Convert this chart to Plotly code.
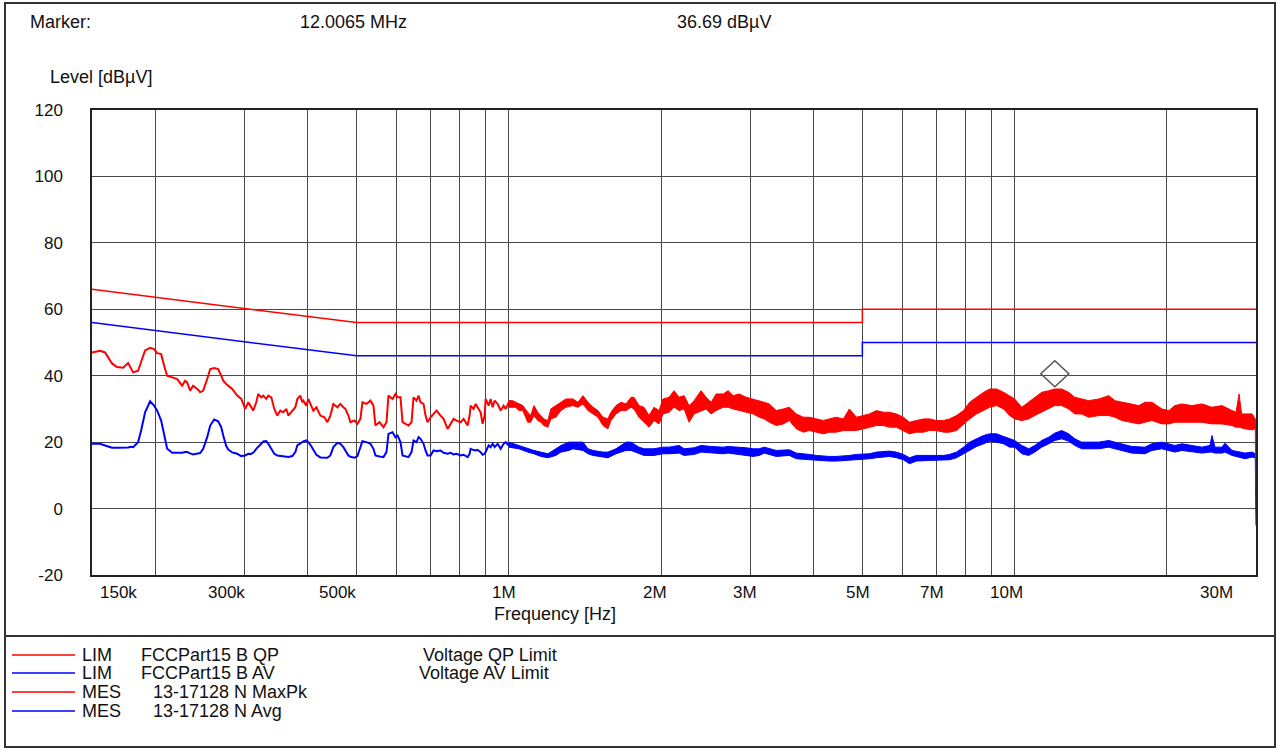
import numpy as np
import plotly.graph_objects as go

# ---------------- data (frequencies in MHz, levels in dBµV) ----------------
freq_low_mhz = [
    0.1500, 0.1556, 0.1592, 0.1621, 0.1643, 0.1681, 0.1728, 0.1768, 0.1792, 0.1809,
    0.1850, 0.1876, 0.1910, 0.1954, 0.1990, 0.2018, 0.2055, 0.2083, 0.2112, 0.2161,
    0.2210, 0.2261, 0.2292, 0.2313, 0.2345, 0.2377, 0.2399, 0.2432, 0.2454, 0.2488,
    0.2534, 0.2569, 0.2616, 0.2664, 0.2701, 0.2726, 0.2763, 0.2789, 0.2840, 0.2905,
    0.2959, 0.3013, 0.3055, 0.3083, 0.3125, 0.3168, 0.3197, 0.3241, 0.3271, 0.3316,
    0.3347, 0.3393, 0.3439, 0.3487, 0.3535, 0.3583, 0.3633, 0.3666, 0.3733, 0.3785,
    0.3819, 0.3872, 0.3907, 0.3925, 0.3979, 0.4016, 0.4053, 0.4108, 0.4165, 0.4242,
    0.4320, 0.4379, 0.4439, 0.4500, 0.4583, 0.4646, 0.4710, 0.4753, 0.4819, 0.4863,
    0.4953, 0.5021, 0.5090, 0.5136, 0.5231, 0.5327, 0.5401, 0.5450, 0.5551, 0.5653,
    0.5731, 0.5783, 0.5890, 0.5972, 0.6026, 0.6109, 0.6165, 0.6250, 0.6336, 0.6423,
    0.6482, 0.6571, 0.6632, 0.6692, 0.6784, 0.6846, 0.6909, 0.7004, 0.7101, 0.7198,
    0.7331, 0.7432, 0.7569, 0.7673, 0.7778, 0.7885, 0.8030, 0.8141, 0.8291, 0.8367,
    0.8405, 0.8521, 0.8599, 0.8677, 0.8797, 0.8877, 0.8959, 0.9000, 0.9124, 0.9207,
    0.9291, 0.9377, 0.9506, 0.9636, 0.9769, 0.9858, 1.0000,
]
maxpk_low = [
    47, 47.5, 47, 45, 43.7, 42.6, 42.4, 43.8, 42, 41,
    41.5, 44, 47.6, 48.4, 48, 46.8, 46.5, 43, 40, 39.5,
    39, 37, 38.5, 38, 35.5, 37, 36.5, 35.8, 35, 35.5,
    39, 42, 42.3, 42, 40, 38.5, 37.5, 37, 36, 34,
    33, 30, 32, 31, 29.5, 32, 34.5, 33.5, 34, 33,
    34, 33.5, 30, 28, 29.5, 29, 30, 28, 29.5, 30.5,
    33, 34, 32, 32.5, 31, 33, 31.5, 29.5, 30.5, 28,
    27.5, 26, 28, 31.5, 30.5, 31.5, 30.5, 30, 28, 26,
    26.5, 25.5, 27, 32, 31.5, 32.5, 31, 25, 26, 24.5,
    26, 34, 33, 34.5, 33.5, 33.5, 26, 25.5, 25, 26,
    33.5, 32.5, 34, 32, 31.5, 28, 26, 27.5, 28.5, 29.5,
    28, 27, 24, 25.5, 27, 26.5, 26, 27, 25, 28,
    31, 30, 31.5, 30.5, 29, 25.5, 28, 33, 31, 33,
    30.5, 32.5, 31.5, 29.5, 31, 30, 32,
]
avg_low = [
    19.5, 19.5, 19.0, 18.6, 18.3, 18.3, 18.3, 18.4, 18.6, 18.5,
    20.0, 23.5, 29.0, 32.3, 31.0, 29.5, 26.5, 22.0, 18.0, 16.8,
    16.7, 16.8, 17.0, 17.0, 16.6, 16.3, 16.4, 16.6, 16.7, 18.0,
    21.5, 25.0, 26.8, 26.3, 24.5, 22.0, 18.8, 17.8, 16.9, 16.5,
    15.8, 16.0, 16.5, 16.4, 16.8, 18.0, 18.5, 19.5, 20.2, 20.3,
    19.5, 18.0, 16.5, 16.0, 15.8, 15.7, 15.6, 15.5, 15.8, 17.0,
    19.0, 19.7, 20.0, 20.2, 20.5, 20.0, 19.2, 17.8, 16.2, 15.4,
    15.4, 15.3, 16.0, 18.5, 19.8, 19.5, 18.5, 17.5, 16.0, 15.6,
    15.3, 15.8, 19.0, 20.3, 20.0, 19.5, 18.0, 16.0, 15.7, 15.5,
    17.0, 22.5, 23.0, 21.5, 22.0, 20.0, 16.0, 15.8, 15.5, 17.0,
    20.5, 20.0, 21.5, 21.0, 19.5, 17.5, 16.0, 16.0, 17.5, 17.3,
    17.5, 16.8, 16.5, 16.8, 16.3, 16.5, 16.0, 16.2, 15.5, 16.5,
    18.0, 17.6, 17.5, 17.7, 17.0, 16.2, 16.5, 17.0, 19.0, 18.5,
    19.5, 18.5, 19.5, 18.0, 19.5, 20.0, 19.0,
]

# dense part of the MaxPk sweep (above 1 MHz): upper / lower edge of the noisy trace
freq_maxpk_band_mhz = [
    1.000, 1.018, 1.032, 1.047, 1.066, 1.090, 1.105, 1.121, 1.141, 1.157,
    1.173, 1.195, 1.211, 1.239, 1.268, 1.297, 1.339, 1.370, 1.402, 1.434,
    1.467, 1.501, 1.535, 1.570, 1.592, 1.629, 1.667, 1.705, 1.744, 1.768,
    1.809, 1.851, 1.893, 1.937, 1.982, 2.018, 2.074, 2.122, 2.171, 2.221,
    2.272, 2.325, 2.400, 2.455, 2.512, 2.570, 2.653, 2.714, 2.777, 2.854,
    2.947, 3.042, 3.126, 3.199, 3.273, 3.379, 3.489, 3.586, 3.702, 3.822,
    3.928, 4.055, 4.187, 4.302, 4.442, 4.586, 4.713, 4.866, 5.023, 5.163,
    5.331, 5.504, 5.655, 5.838, 6.028, 6.195, 6.396, 6.604, 6.786, 7.006,
    7.234, 7.434, 7.675, 7.925, 8.147, 8.410, 8.684, 8.924, 9.213, 9.511,
    9.775, 10.00, 10.33, 10.66, 10.96, 11.31, 11.68, 12.00, 12.39, 12.79,
    13.15, 13.57, 14.01, 14.67, 15.35, 15.78, 16.29, 17.05, 17.60, 18.09,
    18.68, 19.55, 20.18, 20.74, 21.41, 22.41, 23.46, 24.55, 25.70, 26.90,
    27.40, 27.77, 28.10, 28.54, 29.47, 29.90, 30.00,
]
maxpk_upper = [
    32.5, 32.5, 32, 31.5, 31, 29, 28, 31, 29, 28,
    27, 26.5, 30, 31, 32, 33, 33, 32, 34, 32,
    30.5, 29.5, 27.5, 27, 29, 31, 32, 31.5, 33.5, 33.5,
    31, 30.5, 28, 30.5, 29.5, 33, 33.5, 35.5, 33.5, 34,
    31, 32.5, 35.5, 33.5, 32, 34.5, 34.5, 35.5, 34, 34.5,
    33.5, 33, 32.5, 32, 31.5, 29.5, 30, 30.5, 28.5, 27.5,
    27.5, 27, 26.5, 27, 27.5, 27, 30, 27.5, 28, 28.5,
    29.5, 29, 29, 28.5, 27.5, 26, 26.5, 27, 27, 26.5,
    26.5, 27, 28, 29.5, 32, 33.5, 35, 36, 36, 35,
    34, 33, 30.5, 32, 33.5, 35, 35.5, 36, 36, 35,
    33.5, 33, 32.5, 33, 34, 32.5, 32, 31.5, 31, 32,
    32, 30, 29.5, 31, 31.5, 31, 31.5, 30.5, 31, 29.5,
    29, 34.5, 28.5, 28.5, 28.5, 27, 25,
]
maxpk_lower = [
    30.5, 30.5, 30.5, 29.5, 29.5, 26, 26, 28, 26.5, 26,
    25, 24.5, 27, 27.5, 29.5, 30.5, 31, 30.5, 31.5, 29.5,
    28.5, 27.5, 25, 24, 26.5, 28.5, 29.5, 29.5, 30.5, 30,
    27.5, 26, 24.5, 26.5, 25.5, 28.5, 29, 30.5, 29.5, 30,
    26, 28.5, 29.5, 30, 28.5, 29.5, 30.5, 30.5, 30, 29.5,
    29, 28.5, 27.5, 27, 26, 25, 25.5, 26.5, 24, 23,
    23.5, 23, 22.5, 23, 23, 23.5, 23.5, 23.5, 24, 24.5,
    25, 25, 24.5, 24.5, 23.5, 22.5, 23, 23, 23.5, 23.5,
    23, 23, 23.5, 25.5, 27, 28.5, 29.5, 30.5, 31, 30,
    28, 27, 26.5, 27, 28, 29, 30, 31, 31, 30,
    28.5, 28.5, 27.5, 28, 28, 27.5, 26.5, 26, 25.5, 26,
    26.5, 25.5, 25.5, 26, 26, 26, 26, 25.5, 25.5, 25,
    24.5, 24.5, 24.2, 24, 23.7, 24, 5.4,
]

# dense part of the Avg sweep (above 1 MHz): upper / lower edge of the trace
freq_avg_band_mhz = [
    1.000, 1.047, 1.090, 1.121, 1.157, 1.195, 1.239, 1.268, 1.315, 1.339,
    1.402, 1.434, 1.467, 1.535, 1.570, 1.629, 1.667, 1.705, 1.744, 1.809,
    1.851, 1.937, 2.018, 2.074, 2.171, 2.221, 2.325, 2.400, 2.512, 2.653,
    2.714, 2.854, 2.947, 3.042, 3.126, 3.199, 3.379, 3.586, 3.702, 3.928,
    4.055, 4.302, 4.442, 4.713, 4.866, 5.163, 5.331, 5.655, 5.838, 6.028,
    6.195, 6.396, 6.786, 7.234, 7.434, 7.675, 7.925, 8.147, 8.410, 8.684,
    8.924, 9.213, 9.511, 9.775, 10.00, 10.33, 10.66, 10.96, 11.31, 11.68,
    12.00, 12.39, 12.79, 13.15, 13.57, 14.67, 15.35, 15.78, 16.29, 17.05,
    18.09, 18.68, 19.55, 20.74, 21.41, 22.41, 23.46, 24.33, 24.55, 24.89,
    25.70, 26.05, 26.90, 28.54, 29.47, 29.90, 30.00,
]
avg_upper = [
    20, 19, 18, 17.5, 17, 16.5, 18, 19, 20, 20,
    20, 18, 17.5, 17, 17, 18, 19, 20, 20, 18.5,
    18, 18, 18.5, 18.5, 19, 18, 18.3, 19, 18.7, 18.5,
    18.7, 18.5, 18.3, 18, 18, 18.5, 17.5, 17.7, 16.7, 16.3,
    16, 15.7, 15.7, 16, 16.3, 16.5, 17, 17.3, 17, 16.3,
    15.3, 16, 16, 16, 16.3, 17, 18.5, 20, 21, 22,
    22.5, 22.5, 21.7, 21, 20.5, 19, 18, 19, 20.5, 21.5,
    22.7, 23.5, 22.5, 21, 20, 20, 20.5, 20, 19.5, 18.7,
    18.5, 19.5, 20, 19, 19.5, 19, 18.5, 19, 22, 18.5,
    18.5, 19.7, 17.5, 16.7, 17, 16.5, 16,
]
avg_lower = [
    18.5, 18, 17, 16.5, 15.7, 15.3, 16, 17, 17.5, 18,
    17.5, 16.5, 16, 15.5, 15.3, 16.5, 17, 17.5, 17.5, 16.5,
    16, 16, 16.5, 16.5, 16.7, 16, 16.3, 17, 16.7, 16.5,
    16.7, 16.3, 16, 15.7, 16, 16.7, 15.7, 16, 15, 14.7,
    14.5, 14.3, 14.3, 14.5, 14.7, 15, 15.3, 15.7, 15.3, 14.7,
    13.5, 14.3, 14.5, 14.5, 14.7, 15.3, 16.5, 17.7, 18.7, 19.5,
    20.3, 20, 19.5, 18.5, 18.5, 16.5, 16, 17, 18.5, 19.5,
    20.5, 21, 20.3, 19, 18, 18, 18.5, 18, 17.5, 16.7,
    16.5, 17.5, 18, 17, 17.5, 17, 16.7, 17, 17, 16.7,
    16.7, 17, 16, 15, 15.5, 15.3, -5.1,
]

# FCC Part 15 B limits
limit_freq_mhz = [0.15, 0.5, 5.0, 5.0, 30.0]
qp_limit = [66, 56, 56, 60, 60]
av_limit = [56, 46, 46, 50, 50]

marker_freq_mhz = 12.0065
marker_level = 36.69

y_ticks = [-20, 0, 20, 40, 60, 80, 100, 120]
y_tick_text = ["-20", "0", "20", "40", "60", "80", "100", "120"]
x_grid_mhz = [0.2, 0.3, 0.4, 0.5, 0.6, 0.7, 0.8, 0.9, 1, 2, 3, 4, 5, 6, 7, 8, 9, 10, 20]
x_label_mhz = [0.15, 0.3, 0.5, 1, 2, 3, 5, 7, 10, 30]
x_label_text = ["150k", "300k", "500k", "1M", "2M", "3M", "5M", "7M", "10M", "30M"]

legend_kind = ["LIM", "LIM", "MES", "MES"]
legend_name = ["FCCPart15 B QP", "FCCPart15 B AV", "13-17128 N MaxPk", "13-17128 N Avg"]
legend_desc = ["Voltage QP Limit", "Voltage AV Limit", "", ""]

assert len(freq_low_mhz) == len(maxpk_low) == len(avg_low)
assert len(freq_maxpk_band_mhz) == len(maxpk_upper) == len(maxpk_lower)
assert len(freq_avg_band_mhz) == len(avg_upper) == len(avg_lower)

# ---------------- style ----------------
RED = "#ff0000"
BLUE = "#0000ff"
FONT = "Liberation Sans, Arial, sans-serif"
TXT = "#111111"
W, H = 1279, 749
ML, MR, MT, MB = 92, 23, 110, 174
PW, PH = W - ML - MR, H - MT - MB


def px_to_paper_x(px):
    return (px - ML) / PW


def py_to_paper_y(py):
    return (H - MB - py) / PH


fig = go.Figure()

# limits
fig.add_trace(go.Scatter(x=limit_freq_mhz, y=qp_limit, mode="lines",
                         line=dict(color=RED, width=1.5), showlegend=False, hoverinfo="skip"))
fig.add_trace(go.Scatter(x=limit_freq_mhz, y=av_limit, mode="lines",
                         line=dict(color=BLUE, width=1.5), showlegend=False, hoverinfo="skip"))

# Avg measurement
fig.add_trace(go.Scatter(x=freq_low_mhz, y=avg_low, mode="lines",
                         line=dict(color=BLUE, width=2), showlegend=False))
fig.add_trace(go.Scatter(x=freq_avg_band_mhz, y=avg_upper, mode="lines",
                         line=dict(color=BLUE, width=1), showlegend=False))
fig.add_trace(go.Scatter(x=freq_avg_band_mhz, y=avg_lower, mode="lines", fill="tonexty",
                         fillcolor=BLUE, line=dict(color=BLUE, width=1), showlegend=False))

# MaxPk measurement
fig.add_trace(go.Scatter(x=freq_low_mhz, y=maxpk_low, mode="lines",
                         line=dict(color=RED, width=2), showlegend=False))
fig.add_trace(go.Scatter(x=freq_maxpk_band_mhz, y=maxpk_upper, mode="lines",
                         line=dict(color=RED, width=1), showlegend=False))
fig.add_trace(go.Scatter(x=freq_maxpk_band_mhz, y=maxpk_lower, mode="lines", fill="tonexty",
                         fillcolor=RED, line=dict(color=RED, width=1), showlegend=False))

shapes = []
# marker diamond sitting on the marker point
shapes.append(dict(type="path", xref="x", yref="y", xsizemode="pixel", ysizemode="pixel",
                   xanchor=marker_freq_mhz, yanchor=marker_level,
                   path="M 0 0 L 14 13 L 0 26 L -14 13 Z",
                   line=dict(color="#555555", width=1.5), layer="above"))
# outer frame and legend separator
shapes.append(dict(type="rect", xref="paper", yref="paper",
                   x0=px_to_paper_x(5), x1=px_to_paper_x(1275),
                   y0=py_to_paper_y(747), y1=py_to_paper_y(3),
                   line=dict(color="#333333", width=2)))
shapes.append(dict(type="line", xref="paper", yref="paper",
                   x0=px_to_paper_x(5), x1=px_to_paper_x(1275),
                   y0=py_to_paper_y(636), y1=py_to_paper_y(636),
                   line=dict(color="#333333", width=2)))

annotations = []
text_font = dict(family=FONT, size=18, color=TXT)
tick_font = dict(family=FONT, size=17, color=TXT)

# header
for txt, px in [("Marker:", 28), ("12.0065 MHz", 298), ("36.69 dBµV", 675)]:
    annotations.append(dict(text=txt, xref="paper", yref="paper", x=px_to_paper_x(px),
                            y=py_to_paper_y(22), xanchor="left", yanchor="middle",
                            showarrow=False, font=text_font))
annotations.append(dict(text="Level [dBµV]", xref="paper", yref="paper", x=px_to_paper_x(48),
                        y=py_to_paper_y(77), xanchor="left", yanchor="middle",
                        showarrow=False, font=text_font))
annotations.append(dict(text="Frequency [Hz]", xref="paper", yref="paper", x=px_to_paper_x(555),
                        y=py_to_paper_y(614), xanchor="center", yanchor="middle",
                        showarrow=False, font=text_font))

# x tick labels (placed like the EMC software does: slightly left of the grid line)
label_shift = [26, -18, -19, -5, -6, -5, -4, -4, -8, -40]
for v, t, s in zip(x_label_mhz, x_label_text, label_shift):
    annotations.append(dict(text=t, xref="x", yref="paper", x=np.log10(v),
                            y=py_to_paper_y(592), xanchor="center", yanchor="middle",
                            xshift=s, showarrow=False, font=tick_font))

# legend block
legend_rows_y = [655, 673, 692, 711]
legend_colors = [RED, BLUE, RED, BLUE]
name_x = [139, 139, 151, 151]
desc_x = [421, 417, 0, 0]
for i in range(4):
    yy = py_to_paper_y(legend_rows_y[i])
    shapes.append(dict(type="line", xref="paper", yref="paper",
                       x0=px_to_paper_x(12), x1=px_to_paper_x(75), y0=yy, y1=yy,
                       line=dict(color=legend_colors[i], width=1.5)))
    annotations.append(dict(text=legend_kind[i], xref="paper", yref="paper",
                            x=px_to_paper_x(80), y=yy, xanchor="left", yanchor="middle",
                            showarrow=False, font=text_font))
    annotations.append(dict(text=legend_name[i], xref="paper", yref="paper",
                            x=px_to_paper_x(name_x[i]), y=yy, xanchor="left", yanchor="middle",
                            showarrow=False, font=text_font))
    if legend_desc[i]:
        annotations.append(dict(text=legend_desc[i], xref="paper", yref="paper",
                                x=px_to_paper_x(desc_x[i]), y=yy, xanchor="left",
                                yanchor="middle", showarrow=False, font=text_font))

fig.update_layout(
    width=W, height=H,
    margin=dict(l=ML, r=MR, t=MT, b=MB, pad=0),
    paper_bgcolor="white", plot_bgcolor="white",
    showlegend=False,
    font=dict(family=FONT, size=17, color=TXT),
    shapes=shapes, annotations=annotations,
    xaxis=dict(type="log", range=[np.log10(0.15), np.log10(30)],
               tickmode="array", tickvals=x_grid_mhz, showticklabels=False, ticks="",
               showgrid=True, gridcolor="#4a4a4a", gridwidth=1.3,
               showline=True, mirror=True, linecolor="#222222", linewidth=1.5,
               zeroline=False, fixedrange=True),
    yaxis=dict(range=[-20, 120], tickmode="array", tickvals=y_ticks, ticktext=y_tick_text,
               ticks="", ticklabelstandoff=24, tickfont=tick_font,
               showgrid=True, gridcolor="#4a4a4a", gridwidth=1.3,
               showline=True, mirror=True, linecolor="#222222", linewidth=1.5,
               zeroline=False, fixedrange=True),
)

fig.write_html("out.html", config={"displayModeBar": False},
               post_script="document.body.style.margin='0';document.body.style.overflow='hidden';")
